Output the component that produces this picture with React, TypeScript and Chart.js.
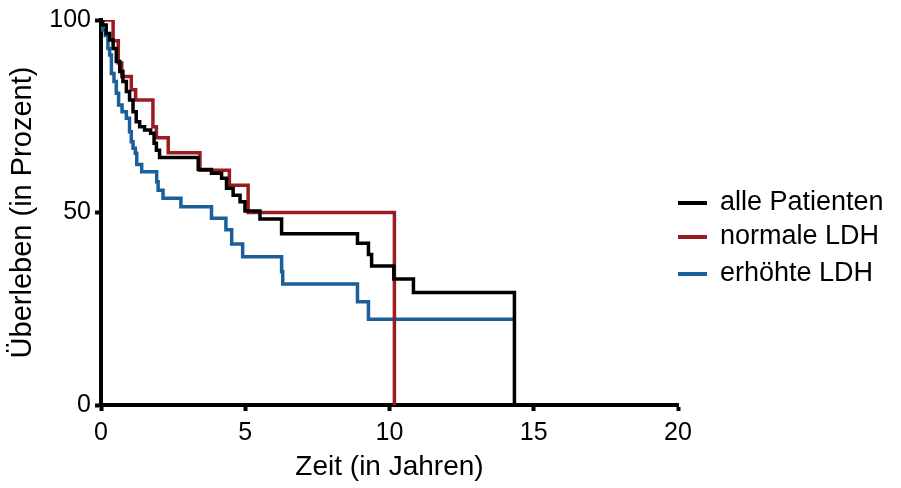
import React, { useEffect, useRef } from "react";
import { Chart, registerables } from "chart.js";

Chart.register(...registerables);

// ---- data (time in years, survival in percent) ----
const allTimes = [0, 0.06, 0.18, 0.3, 0.42, 0.53, 0.65, 0.76, 0.88, 0.99, 1.11, 1.22, 1.34, 1.51, 1.72, 1.84, 1.92, 2.03, 3.37, 3.83, 4.18, 4.35, 4.58, 4.82, 4.99, 5.51, 6.26, 8.89, 9.27, 9.38, 10.15, 10.83, 14.33];
const allSurvival = [100, 98.7, 96.5, 94.8, 92.6, 89.2, 86.6, 84, 81.4, 79.2, 76.2, 73.6, 72.3, 71.4, 70.6, 68, 66.2, 64.3, 61.2, 60.2, 58.9, 56.3, 54.5, 52.8, 50.4, 48.3, 44.5, 42, 39.1, 36.1, 32.7, 29.2, 0];

const normalTimes = [0, 0.42, 0.6, 0.72, 1.05, 1.2, 1.8, 1.92, 2.33, 3.43, 4.45, 5.1, 10.17];
const normalSurvival = [100, 94.6, 88.8, 85.3, 81.9, 79.2, 72.3, 69.4, 65.5, 61, 57.1, 50, 0];

const highTimes = [0, 0.04, 0.15, 0.24, 0.3, 0.36, 0.45, 0.53, 0.61, 0.73, 0.88, 0.99, 1.05, 1.11, 1.19, 1.24, 1.41, 1.93, 1.98, 2.15, 2.77, 3.83, 4.33, 4.53, 4.91, 6.26, 6.3, 8.89, 9.27, 14.33];
const highSurvival = [100, 97.4, 96, 92.6, 90.9, 86.1, 84, 81, 77.9, 76.2, 74.5, 71, 68.4, 66.7, 65.4, 62.5, 60.6, 58, 55.8, 53.7, 51.5, 48.5, 45.5, 41.8, 38.5, 34.6, 31.4, 26.8, 22.3, 22.3];

const seriesLabels = ["alle Patienten", "normale LDH", "erhöhte LDH"];
const xTickValues = [0, 5, 10, 15, 20];
const yTickValues = [0, 50, 100];
const xTitle = "Zeit (in Jahren)";
const yTitle = "Überleben (in Prozent)";

const FONT = "'Liberation Sans', Arial, Helvetica, sans-serif";
const COLORS = ["#000000", "#9b1c20", "#1a5f99"];
const LEGEND_ROWS = [203, 237, 274];

Chart.defaults.font.family = FONT;
Chart.defaults.color = "#000";

const toPoints = (xs: number[], ys: number[]) => xs.map((x, i) => ({ x, y: ys[i] }));

const legendPlugin = {
  id: "kmLegend",
  afterDraw(chart: any) {
    const ctx = chart.ctx as CanvasRenderingContext2D;
    ctx.save();
    chart.data.datasets.forEach((ds: any, i: number) => {
      const y = LEGEND_ROWS[i];
      ctx.strokeStyle = ds.borderColor;
      ctx.lineWidth = 4;
      ctx.lineCap = "butt";
      ctx.beginPath();
      ctx.moveTo(678, y);
      ctx.lineTo(707, y);
      ctx.stroke();
      ctx.fillStyle = "#000";
      ctx.font = `27px ${FONT}`;
      ctx.textBaseline = "middle";
      ctx.textAlign = "left";
      ctx.fillText(ds.label, 720, y);
    });
    ctx.restore();
  },
};

export default function App() {
  const ref = useRef<HTMLCanvasElement | null>(null);

  useEffect(() => {
    if (!ref.current) return;
    const series = [
      toPoints(allTimes, allSurvival),
      toPoints(normalTimes, normalSurvival),
      toPoints(highTimes, highSurvival),
    ];
    const tickFont = { family: FONT, size: 25 };
    const chart = new Chart(ref.current, {
      type: "line",
      data: {
        datasets: series.map((data, i) => ({
          label: seriesLabels[i],
          data,
          borderColor: COLORS[i],
          backgroundColor: COLORS[i],
          borderWidth: 3.5,
          pointRadius: 0,
          stepped: "before" as const,
          fill: false,
          tension: 0,
        })),
      },
      options: {
        animation: false,
        responsive: false,
        layout: { padding: { top: 20, right: 223, bottom: 0, left: 0 } },
        plugins: {
          legend: { display: false },
          tooltip: { enabled: false },
        },
        scales: {
          x: {
            type: "linear",
            min: 0,
            max: 20,
            afterBuildTicks: (scale: any) => {
              scale.ticks = xTickValues.map((v) => ({ value: v }));
            },
            afterFit: (scale: any) => {
              scale.height = 83;
            },
            ticks: {
              color: "#000",
              font: tickFont,
              padding: 7,
              maxRotation: 0,
              autoSkip: false,
            },
            grid: {
              display: true,
              drawOnChartArea: false,
              drawTicks: true,
              tickLength: 6,
              tickWidth: 4,
              tickColor: "#000",
            },
            border: { display: true, width: 4, color: "#000" },
            title: {
              display: true,
              text: xTitle,
              color: "#000",
              font: { family: FONT, size: 28 },
              padding: { top: 0, bottom: 4 },
            },
          },
          y: {
            type: "linear",
            min: 0,
            max: 100,
            afterBuildTicks: (scale: any) => {
              scale.ticks = yTickValues.map((v) => ({ value: v }));
            },
            afterFit: (scale: any) => {
              scale.width = 101;
            },
            ticks: {
              color: "#000",
              font: tickFont,
              padding: 4,
              autoSkip: false,
            },
            grid: {
              display: true,
              drawOnChartArea: false,
              drawTicks: true,
              tickLength: 6,
              tickWidth: 4,
              tickColor: "#000",
            },
            border: { display: true, width: 4, color: "#000" },
            title: {
              display: true,
              text: yTitle,
              color: "#000",
              font: { family: FONT, size: 29 },
              padding: { top: 6, bottom: 0 },
            },
          },
        },
      },
      plugins: [legendPlugin],
    });
    return () => chart.destroy();
  }, []);

  return (
    <div style={{ position: "fixed", left: 0, top: 0, width: 901, height: 488, background: "#fff" }}>
      <canvas ref={ref} width={901} height={488} style={{ display: "block" }} />
    </div>
  );
}
